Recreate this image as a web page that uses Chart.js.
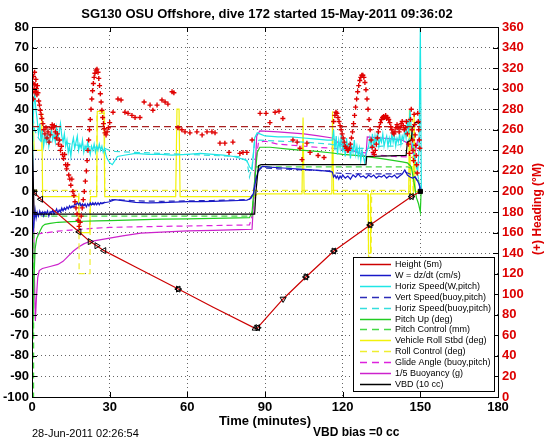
<!DOCTYPE html>
<html>
<head>
<meta charset="utf-8">
<title>SG130 dive 172</title>
<script src="https://cdn.jsdelivr.net/npm/chart.js@4.4.1/dist/chart.umd.min.js"></script>
<style>
  html, body { margin: 0; padding: 0; background: #fff; }
  canvas { display: block; }
</style>
</head>
<body>
<canvas id="chart" width="546" height="442"></canvas>
<script>
// ============================================================
// Données : [temps (min), valeur]
// ============================================================
const timeTicks    = [0, 30, 60, 90, 120, 150, 180];
const leftTicks    = [-100, -90, -80, -70, -60, -50, -40, -30, -20, -10, 0, 10, 20, 30, 40, 50, 60, 70, 80];
const headingTicks = [0, 20, 40, 60, 80, 100, 120, 140, 160, 180, 200, 220, 240, 260, 280, 300, 320, 340, 360];

const seriesNames = [
  'Height (5m)', 'W = dz/dt (cm/s)', 'Horiz Speed(W,pitch)', 'Vert Speed(buoy,pitch)',
  'Horiz Speed(buoy,pitch)', 'Pitch Up (deg)', 'Pitch Control (mm)', 'Vehicle Roll Stbd (deg)',
  'Roll Control (deg)', 'Glide Angle (buoy,pitch)', '1/5 Buoyancy (g)', 'VBD (10 cc)'
];

const heightPts = [[0,0],[1,-0.6],[3.4,-3.8],[10,-10.9],[18.2,-19.7],[22.4,-24.4],[25,-26.4],[27.8,-28.8],
  [40,-36.8],[56.5,-47.5],[70,-56.3],[86,-66.5],[87,-66.6],[88,-65],[97,-52.3],[105.8,-41.6],
  [116.6,-29],[130.6,-16.3],[140,-8.2],[146.6,-2.5],[150,0]];

const eventPts = [[0,0],[1,-0.6],[3.4,-3.8],[18.2,-19.7],[22.4,-24.4],[25,-26.4],[27.8,-28.8],
  [56.5,-47.5],[56.5,-47.5],[86.2,-66.6],[87.2,-66.3],[87.2,-66.3],[97,-52.3],[105.8,-41.6],[105.8,-41.6],
  [116.6,-29],[116.6,-29],[130.6,-16.3],[130.6,-16.3],[146.6,-2.5],[146.6,-2.5],[150,0]];

const wPts = [[0,0],[0.4,-20],[0.8,-15],[1.2,-9],[1.6,-13],[2,-10],[2.5,-12],[3,-9.5],[3.5,-11.5],[4,-10],
  [4.5,-12],[5,-10],[5.5,-11],[6,-9.5],[6.5,-12],[7,-10],[7.5,-11],[8,-9],[8.5,-11],[9,-10],[9.5,-8.5],
  [10,-10.5],[10.5,-9],[11,-10],[11.5,-8],[12,-9.5],[12.5,-8],[13,-9],[13.5,-7.5],[14,-8.5],[14.5,-7],
  [15,-8],[15.5,-7],[16,-7.5],[16.5,-6],[17,-6.5],[17.5,-5.5],[18,-6.5],[18.5,-5.5],[19,-7],[19.5,-6],
  [20,-7],[20.5,-6],[21,-7.5],[21.5,-6],[22,-7],[22.5,-5.5],[23,-6.5],[23.5,-5.5],[24,-6.5],[24.5,-5.5],
  [25,-6.5],[25.5,-5.5],[26,-6.5],[26.5,-5.5],[27,-6],[28,-5.5],[30,-5],[32,-4],[35,-4.5],[40,-5.3],
  [45,-5.6],[50,-5.4],[55,-5.2],[60,-5],[65,-5],[70,-4.8],[75,-4.6],[80,-4.4],[83,-4.2],[84.5,-3.5],
  [85.5,-1],[86.5,6],[87.5,10.5],[89,12.2],[92,11.8],[97,11.4],[102,11],[108,10.5],[113,10],[116,9.5],
  [116.5,7],[117,8],[117.5,6.5],[118,7.5],[118.5,6],[119,7.5],[119.5,6.5],[120,8],[121,6.5],[122,7.5],
  [123,6],[124,8],[125,7],[126,8.5],[127,7],[128,7.5],[129,6.5],[130,8],[131,7],[132,8],[133,6.5],
  [134,7.5],[135,7],[136,8],[137,6.5],[138,7.5],[139,7],[140,8],[141,6.5],[142,7.5],[143,8.5],[144,10.5],
  [145,8],[146,7],[147,6.5],[148,7],[149,5],[149.7,3],[150,0]];

const hsPts = [[0,0],[0.3,30],[0.7,42],[1,48],[1.5,40],[2,35],[2.5,28],[3,33],[3.5,24],[4,30],[4.5,22],
  [5,27],[5.5,24],[6,29],[6.5,22],[7,26],[7.5,30],[8,25],[8.5,28],[9,24],[9.5,31],[10,26],[10.5,29],
  [11,33],[11.5,27],[12,24],[12.5,28],[13,22],[13.5,25],[14,19],[14.5,22],[15,17],[15.5,23],[16,26],
  [16.5,21],[17,24],[17.5,27],[18,20],[18.5,23],[19,21],[19.5,25],[20,19],[20.5,22],[21,20],[21.5,24],
  [22,21],[22.5,18],[23,22],[23.5,20],[24,23],[24.5,19],[25,22],[25.5,20],[26,23],[26.5,20],[27,22],
  [27.5,19],[28,21],[28.5,18],[29,16],[30,14],[31,13],[32,15],[33,17],[35,17.5],[40,18.5],[45,18],
  [50,18],[54,17.7],[60,18],[65,18.5],[70,18],[74,17.7],[78,17],[82,15.5],[83,15],[84,12],[85,10.5],
  [85.5,18],[86,26],[87,28.5],[88,28],[90,27],[95,26.5],[100,26.5],[105,26],[110,25.5],[114,25],[116,25],
  [116.5,30],[117,20],[117.5,27],[118,18],[118.5,25],[119,21],[119.5,28],[120,19],[120.5,24],[121,17],
  [121.5,26],[122,20],[122.5,23],[123,16],[123.5,22],[124,19],[124.5,25],[125,18],[125.5,22],[126,17],
  [126.5,21],[127,15],[127.5,20],[128,17],[128.5,14],[129,18],[129.5,20],[130,22],[130.5,26],[131,22],
  [131.5,28],[132,21],[132.5,27],[133,23],[133.5,29],[134,22],[134.5,26],[135,24],[135.5,28],[136,22],
  [136.5,25],[137,27],[137.5,22],[138,26],[138.5,23],[139,28],[139.5,24],[140,27],[140.5,22],[141,26],
  [141.5,24],[142,28],[142.5,23],[143,27],[143.5,25],[144,30],[144.5,26],[145,35],[145.5,28],[146,40],
  [146.5,30],[147,22],[147.5,18],[148,15],[148.5,12],[149,10],[149.5,20],[150,80],[150.4,0]];

const vsPts = [[0,0],[0.6,-14],[1.5,-11],[3,-10.5],[6,-10],[10,-9.5],[14,-8],[18,-7],[22,-6.5],[26,-6],
  [29,-5],[31,-4],[35,-4.2],[40,-4.6],[50,-4.8],[60,-4.6],[70,-4.4],[80,-4.1],[84,-3.8],[85.5,-1],
  [87,9],[88.5,11.5],[95,11],[105,10.5],[115,10],[117,9],[125,8.5],[135,8.5],[142,8.5],[144,9.5],
  [146,8.5],[148,7],[149.5,4],[150,0]];

const hdPts = [[0,0],[0.5,35],[1,30],[2,27],[3,25],[5,24],[10,25],[15,23],[20,22],[25,21.5],[28,21],
  [30,20],[32,19.5],[40,19],[50,18.5],[60,18],[70,17.5],[80,17],[83,15],[84,7],[85,12],[86,24],[88,25],
  [95,24.5],[105,24],[115,23],[120,22],[125,21],[130,21],[135,22],[140,22],[145,24],[147,28],[148,15],
  [149,8],[150,2]];

const puPts = [[0,0],[0.3,-72],[0.7,-45],[1.2,-28],[1.8,-23],[2.5,-21],[3.2,-19],[4,-17],[5,-16],[7,-15.5],
  [10,-15],[15,-14.7],[20,-14.5],[25,-14.3],[30,-14.2],[40,-13.8],[50,-13.5],[60,-13.3],[70,-13.1],
  [80,-12.9],[84,-12.8],[85,-10],[86,5],[87,19],[88,21.5],[92,21.5],[100,20.5],[110,19.5],[116,18.7],
  [120,18],[125,17.5],[130,16.8],[135,16],[140,15],[143,14.4],[145,13.9],[146.5,12],[147.5,5],
  [148.5,-3],[149.3,-6],[150,-10],[150.3,0]];

const pcPts = [[0,-100],[0.6,-100],[0.7,-12],[30,-12],[60,-12],[85,-12],[86.5,12],[100,12],[120,12],
  [140,12],[145,12],[147,11],[149,8],[150,0]];

const rollPts = [[0,0],[0.4,39],[0.8,20],[3.6,20],[3.8,38],[4.1,-2.5],[18,-2.5],[18.3,-20],[22.3,-20],
  [22.6,-2.5],[25,-2.5],[25.2,39],[27.8,39],[28.1,-2.5],[55.5,-2.5],[56,40],[56.8,40],[57.2,-2.5],
  [86,-2.5],[87,-1.2],[104.3,-1.2],[104.7,36],[105.1,-1.2],[115.8,-1.2],[116.1,39],[116.5,-1.2],
  [129.8,-1.2],[130,-30],[130.6,-30],[130.8,-1.2],[145.5,-1.2],[145.8,40],[146.2,-1.2],[147.3,-1.2],
  [147.6,38],[148,0],[150,0]];

const rcPts = [[0,0],[0.5,0.5],[18.1,0.5],[18.2,-40],[22.4,-40],[22.5,0.5],[25,0.5],[25.1,38],[28,38],
  [28.1,0.5],[86,0.5],[129.8,0.5],[130,-32],[131,-32],[131.2,0.5],[146,0.5],[146.2,35],[147,35],
  [147.2,0.5],[150,0.5]];

const gaPts = [[0,0],[0.5,-22],[1,-21],[3,-20.5],[6,-20],[10,-19.3],[15,-18.8],[20,-18.3],[25,-17.8],
  [30,-17.5],[40,-17.2],[50,-17],[60,-16.8],[70,-16.6],[80,-16.4],[84,-16.3],[85.5,-10],[86.5,15],
  [87.5,24],[90,24.5],[95,23],[100,22.5],[105,22],[110,21.5],[116,21],[120,20.5],[125,19.5],[130,18.5],
  [135,17.5],[140,17],[145,16.8],[147,16.5],[148.5,15],[150,14]];

const buoyPts = [[0,25],[0.5,5],[0.9,-40],[1.3,-63],[1.7,-52],[2.2,-42],[2.8,-38.5],[4,-37.5],[7,-36.5],
  [10,-35.5],[12,-34],[14,-31.5],[16,-29],[18,-27],[20,-25.5],[22,-24.5],[25,-23.8],[30,-22.7],
  [35,-21.6],[42,-20.3],[50,-19.8],[60,-19.2],[70,-18.9],[80,-18.6],[85,-18.4],[85.8,0],[86.8,27],
  [88,29.5],[95,29],[100,28.5],[105,28],[110,27.2],[116,26],[118,24],[120,22.5],[122,21],[124,19.8],
  [126,18.8],[128,17.5],[129,17.2],[129.5,26.5],[135,26],[140,25.5],[143,25],[145,23.5],[146,26],
  [147,18.5],[148,19],[149,25],[150,26.5]];

const vbdPts = [[0,33],[0.4,10],[0.8,-11],[86,-11],[86.5,0],[87.5,12.5],[88.5,13],[129,13],[129.3,17],
  [144.5,17.5],[145,24],[146.5,25],[147,31],[148,33.5],[150,33.5]];

// vitesse verticale visée (pointillé bleu, hors légende)
const wTargetPts = [[0,15.7],[86,15.7]];

// cap (axe de droite, °M)
const headingPts = [[0.2,296],[0.4,305],[0.5,290],[0.6,312],[0.8,300],[1,316],[1.1,304],[1.3,297],
  [1.5,309],[1.7,300],[1.9,294],[2.1,303],[2.3,296],[2.6,288],[2.9,284],[3.2,279],[3.5,275],[3.8,271],
  [4.2,266],[4.6,260],[5,256],[5.4,262],[5.8,252],[6.2,258],[6.6,248],[7,255],[7.4,262],[7.8,265],
  [8.2,262],[8.6,264],[9,258],[9.4,252],[9.8,256],[10.2,246],[10.6,250],[11,240],[11.4,244],[11.8,236],
  [12.2,232],[12.6,236],[13,226],[13.4,222],[13.8,226],[14.2,216],[14.6,212],[15,206],[15.4,212],
  [15.8,200],[16.2,196],[16.6,190],[17,184],[17.4,178],[17.8,172],[18.2,166],[18.6,170],[19,176],
  [19.4,184],[19.8,192],[20.2,200],[20.6,210],[21,220],[21.3,230],[21.6,240],[21.9,250],[22.2,260],
  [22.5,270],[22.8,280],[23.1,290],[23.4,298],[23.7,305],[24,311],[24.3,315],[24.7,318],[25.1,319],
  [25.5,316],[25.8,310],[26.1,303],[26.4,295],[26.7,287],[27,279],[27.3,272],[27.6,266],[27.9,261],
  [28.2,257],[28.6,255],[29,258],[29.5,262],[30,267],[31.3,277],[33.2,290],[34.4,289],[35.9,277],
  [37.1,276],[38.6,274],[39.8,272],[41.7,272],[43.3,287],[45.6,284],[46.7,279],[48.3,284],[50.2,289],
  [51.4,287],[52.5,285],[54.1,297],[54.8,296],[56.4,262],[57.9,260],[59.1,258],[61,257],[63.7,258],
  [65.7,255],[67.6,258],[69.5,258],[70.7,257],[72.6,247],[74.5,247],[76.1,238],[77.6,248],[80.3,237],
  [81.5,238],[83,238],[85,250],[88.1,276],[90.4,276],[91.9,267],[93.9,277],[95.4,278],[96.9,271],
  [100.8,250],[102.4,248],[103.5,242],[104.3,231],[106.2,247],[107.4,238],[110.5,235],[112.8,233],
  [116.5,268],[117,274],[117.4,277],[117.8,276],[118.2,272],[118.6,268],[119,264],[119.4,260],[119.8,256],
  [120.2,252],[120.6,248],[121,244],[121.4,242],[121.8,240],[122.2,240],[122.6,242],[123,246],[123.4,252],
  [123.8,258],[124.2,266],[124.6,274],[125,282],[125.4,290],[125.8,297],[126.2,303],[126.6,308],[127,311],
  [127.4,313],[127.8,313],[128.2,311],[128.6,306],[129,299],[129.4,290],[129.8,280],[130.2,270],[130.6,260],
  [131,250],[131.4,243],[131.8,238],[132.2,236],[132.6,240],[133,246],[133.4,252],[133.8,258],[134.2,263],
  [134.6,267],[135,270],[135.4,272],[135.8,273],[136.2,272],[136.6,274],[137,271],[137.4,272],[137.8,270],
  [138.2,267],[138.6,263],[139,260],[139.4,257],[139.8,256],[140.2,258],[140.6,262],[141,265],[141.4,262],
  [141.8,258],[142.2,262],[142.6,266],[143,268],[143.4,264],[143.8,260],[144.2,262],[144.6,268],[145,256],
  [145.4,246],[145.8,237],[146.2,270],[146.5,280],[146.8,260],[147,250],[147.2,240],[147.4,230],[147.6,275],
  [147.8,265],[148,255],[148.2,245],[148.4,235],[148.6,226],[148.8,218],[149,276],[149.2,268],[149.4,260],
  [149.6,250],[149.8,242]];

// cap visé (tireté rouge foncé)
const headingTargetPts = [[0,263],[150,263]];

// ============================================================
// Construction
// ============================================================
const FONT = 'Liberation Sans, Arial, Helvetica, sans-serif';
const RED  = '#dd0000';
const DASH = [6, 4];

function xy(pairs) {
  return pairs.map((p) => ({ x: p[0], y: p[1] }));
}

function series(label, pts, color, dash, order) {
  return {
    label:       label,
    data:        xy(pts),
    borderColor: color,
    borderWidth: 1.2,
    borderDash:  dash || [],
    pointRadius: 0,
    yAxisID:     'y',
    order:       order || 5,
    inLegend:    true,
  };
}

const datasets = [
  series(seriesNames[0],  heightPts, '#cc0000', null, 2),
  series(seriesNames[1],  wPts,      '#1818c8'),
  series(seriesNames[2],  hsPts,     '#1ee6e6'),
  series(seriesNames[3],  vsPts,     '#2c2cb8', DASH),
  series(seriesNames[4],  hdPts,     '#35dede', DASH),
  series(seriesNames[5],  puPts,     '#22cc22'),
  series(seriesNames[6],  pcPts,     '#44d944', DASH),
  series(seriesNames[7],  rollPts,   '#f2f20a'),
  series(seriesNames[8],  rcPts,     '#eeee30', DASH),
  series(seriesNames[9],  gaPts,     '#dd22dd', DASH),
  series(seriesNames[10], buoyPts,   '#cc22cc'),
  series(seriesNames[11], vbdPts,    '#000000', null, 4),
  {
    label: 'w target', data: xy(wTargetPts), borderColor: '#10108a', borderWidth: 1,
    borderDash: [1, 2], pointRadius: 0, yAxisID: 'y', order: 6,
  },
  {
    label: 'events', data: xy(eventPts), showLine: false, yAxisID: 'y', order: 1,
    pointStyle: eventPts.map((p, i) => (i === 0 || i === eventPts.length - 1 ? 'rect' : 'triangle')),
    pointRotation: [0, 270, 270, 270, 90, 90, 270, 90, 270, 0, 90, 270, 180, 90, 270, 90, 270, 90, 270, 90, 270, 0],
    pointRadius: eventPts.map((p, i) => (i === 0 || i === eventPts.length - 1 ? 3 : 3.5)),
    pointBorderColor: '#000',
    pointBackgroundColor: eventPts.map((p, i) => (i === 0 || i === eventPts.length - 1 ? '#000' : 'rgba(0,0,0,0)')),
    pointBorderWidth: 1,
  },
  {
    label: 'heading target', data: xy(headingTargetPts), borderColor: '#a82020', borderWidth: 1.2,
    borderDash: [7, 4], pointRadius: 0, yAxisID: 'y2', order: 3,
  },
  {
    label: 'heading', data: xy(headingPts), showLine: false, yAxisID: 'y2', order: 0,
    pointStyle: 'cross', pointRadius: 2.5, pointBorderColor: '#e00000', pointBorderWidth: 1.4,
    borderColor: '#e00000',
  },
];

// ----------------------------------------------------------
// Cadre, graduations internes, textes et légende (style MATLAB)
// ----------------------------------------------------------
const decor = {
  id: 'decor',
  afterDatasetsDraw(chart) {
    const { ctx, chartArea: a } = chart;
    const sx = chart.scales.x;
    const sy = chart.scales.y;
    ctx.save();
    ctx.strokeStyle = '#000';
    ctx.lineWidth = 1;
    ctx.setLineDash([]);
    ctx.beginPath();
    timeTicks.forEach((v) => {
      const px = Math.round(sx.getPixelForValue(v)) + 0.5;
      ctx.moveTo(px, a.bottom); ctx.lineTo(px, a.bottom - 5);
      ctx.moveTo(px, a.top);    ctx.lineTo(px, a.top + 5);
    });
    leftTicks.forEach((v) => {
      const py = Math.round(sy.getPixelForValue(v)) + 0.5;
      ctx.moveTo(a.left, py);  ctx.lineTo(a.left + 5, py);
      ctx.moveTo(a.right, py); ctx.lineTo(a.right - 5, py);
    });
    ctx.stroke();
    ctx.strokeRect(Math.round(a.left) + 0.5, Math.round(a.top) + 0.5, Math.round(a.width), Math.round(a.height));
    ctx.restore();
  },
  afterDraw(chart) {
    const { ctx, chartArea: a } = chart;
    const cx = (a.left + a.right) / 2;
    ctx.save();
    ctx.fillStyle = '#000';
    ctx.textBaseline = 'middle';

    ctx.textAlign = 'center';
    ctx.font = 'bold 13px ' + FONT;
    ctx.fillText('SG130 OSU Offshore, dive 172 started 15-May-2011 09:36:02', cx + 2, 14);
    ctx.fillText('Time (minutes)', cx, 421);

    ctx.textAlign = 'left';
    ctx.font = 'bold 12px ' + FONT;
    ctx.fillText('VBD bias =0 cc', 313, 433);
    ctx.font = '11px ' + FONT;
    ctx.fillText('28-Jun-2011 02:26:54', 32, 434);

    // titre de l'axe de droite
    ctx.save();
    ctx.translate(538, 209);
    ctx.rotate(-Math.PI / 2);
    ctx.textAlign = 'center';
    ctx.fillStyle = RED;
    ctx.font = 'bold 12px ' + FONT;
    ctx.fillText('(+) Heading (\u00B0M)', 0, 0);
    ctx.restore();

    // légende
    const lx = 353, ly = 257, lw = 141, lh = 134;
    ctx.fillStyle = '#fff';
    ctx.fillRect(lx, ly, lw, lh);
    ctx.strokeStyle = '#000';
    ctx.lineWidth = 1;
    ctx.strokeRect(lx + 0.5, ly + 0.5, lw, lh);
    ctx.font = '9px ' + FONT;
    ctx.textAlign = 'left';
    const items = chart.data.datasets.filter((d) => d.inLegend);
    items.forEach((d, i) => {
      const y = Math.round(ly + 7 + i * 10.9) + 0.5;
      ctx.strokeStyle = d.borderColor;
      ctx.lineWidth = 1.5;
      ctx.setLineDash(d.borderDash && d.borderDash.length ? [7, 5] : []);
      ctx.beginPath();
      ctx.moveTo(360, y);
      ctx.lineTo(391, y);
      ctx.stroke();
      ctx.setLineDash([]);
      ctx.fillStyle = '#000';
      ctx.fillText(d.label, 395, y);
    });
    ctx.restore();
  },
};

function ticksFrom(list) {
  return (scale) => { scale.ticks = list.map((v) => ({ value: v })); };
}

const gridStyle   = { color: 'rgba(0,0,0,0.6)', lineWidth: 1, drawTicks: false };
const borderStyle = { display: true, color: '#000', width: 1, dash: [1, 3] };
const tickFont    = { family: FONT, size: 13, weight: 'bold' };

new Chart(document.getElementById('chart'), {
  type: 'line',
  data: { datasets },
  options: {
    responsive: false,
    animation: false,
    devicePixelRatio: 1,
    layout: { padding: { top: 27, left: 0, right: 0, bottom: 0 } },
    plugins: {
      legend:  { display: false },
      tooltip: { enabled: false },
      title:   { display: false },
    },
    elements: { line: { tension: 0 } },
    scales: {
      x: {
        type: 'linear', min: 0, max: 180,
        afterBuildTicks: ticksFrom(timeTicks),
        afterFit: (s) => { s.height = 45; },
        ticks: { color: '#000', font: tickFont, maxRotation: 0, padding: 3 },
        grid: gridStyle, border: borderStyle,
      },
      y: {
        type: 'linear', position: 'left', min: -100, max: 80,
        afterBuildTicks: ticksFrom(leftTicks),
        afterFit: (s) => { s.width = 32; },
        ticks: { color: '#000', font: tickFont, padding: 3 },
        grid: gridStyle, border: borderStyle,
      },
      y2: {
        type: 'linear', position: 'right', min: 0, max: 360,
        afterBuildTicks: ticksFrom(headingTicks),
        afterFit: (s) => { s.width = 48; },
        ticks: { color: RED, font: tickFont, padding: 4 },
        grid: { display: false, drawTicks: false },
        border: { display: true, color: '#000' },
      },
    },
  },
  plugins: [decor],
});
</script>
</body>
</html>
